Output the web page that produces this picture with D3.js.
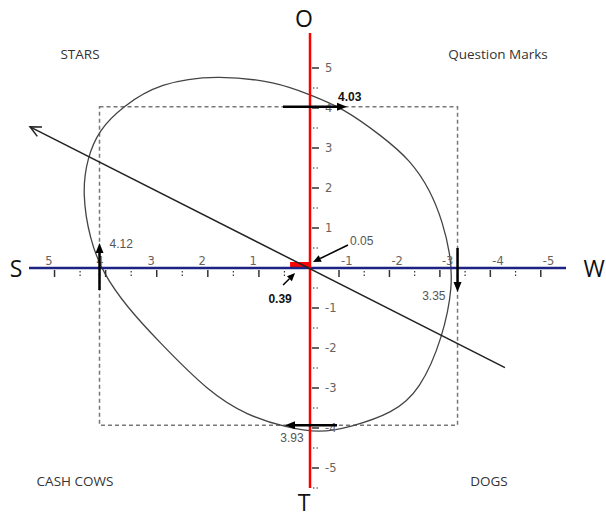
<!DOCTYPE html>
<html>
<head>
<meta charset="utf-8">
<script src="https://cdn.jsdelivr.net/npm/d3@7"></script>
<style>
  body { margin: 0; background: #fff; }
  svg { display: block; }
</style>
</head>
<body>
<div id="d3-container"></div>
<script>
const width = 606;
const height = 517;

// Data
const axisNames = ["O", "S", "W", "T"];
const quadrantNames = ["STARS", "Question Marks", "CASH COWS", "DOGS"];
const xTickValues = [5, 4, 3, 2, 1, -1, -2, -3, -4, -5];
const xMinorValues = [4.5, 3.5, 2.5, 1.5, 0.5, -1.5, -2.5, -3.5, -4.5];
const yTickValues = [5, 4, 3, 2, 1, -1, -2, -3, -4, -5];
const yMinorValues = [4.5, 3.5, 2.5, 1.5, 0.5, -0.5, -1.5, -2.5, -3.5, -4.5, -5.5];
// strength on each axis (S, O, W, T)
const axisValues = [
  { axis: "S", value: 4.12 },
  { axis: "O", value: 4.03 },
  { axis: "W", value: 3.35 },
  { axis: "T", value: 3.93 }
];
const centerX = 0.39;
const centerY = 0.05;
const trendX = [5.48, -4.29];
const trendY = [3.53, -2.49];
// outline of the closed curve, read clockwise from the top
const outlineX = [1.82, 0.65, 0, -1.08, -1.87, -2.41, -2.81, -3.06, -3.20, -3.26, -3.06, -2.61, -2.07, -1.22, -0.34, 0.49, 1.23, 1.96, 2.99, 3.58, 4.05, 4.31, 4.46, 4.36, 4.13, 3.68, 2.94];
const outlineY = [4.83, 4.65, 4.33, 4.0, 3.28, 2.7, 1.95, 1.13, 0.38, -0.43, -1.73, -3.05, -3.63, -3.98, -4.13, -3.98, -3.68, -3.13, -1.8, -0.98, -0.13, 0.70, 1.88, 2.75, 3.45, 4.03, 4.63];

const svg = d3.select('#d3-container')
  .append('svg')
  .attr('width', width)
  .attr('height', height);

// S side on the left, W side on the right (axis is drawn unevenly)
const x = d3.scaleLinear()
  .domain([5.5, 0, -1, -5.5])
  .range([29, 310, 339, 566]);

const y = d3.scaleLinear()
  .domain([5.875, -5.5])
  .range([33, 488]);

const tickFont = "DejaVu Sans, sans-serif";
const labelFont = "'Open Sans', sans-serif";

// dashed box
const sV = axisValues[0].value, oV = axisValues[1].value, wV = axisValues[2].value, tV = axisValues[3].value;
svg.append("rect")
  .attr("x", x(sV))
  .attr("y", y(oV))
  .attr("width", x(-wV) - x(sV))
  .attr("height", y(-tV) - y(oV))
  .style("fill", "none")
  .style("stroke", "#777")
  .style("stroke-width", 1.5)
  .style("stroke-dasharray", "4 3");

// closed curve
const outline = outlineX.map((d, i) => [d, outlineY[i]]);
svg.append("path")
  .datum(outline)
  .attr("d", d3.line().x(d => x(d[0])).y(d => y(d[1])).curve(d3.curveBasisClosed))
  .style("fill", "none")
  .style("stroke", "#444")
  .style("stroke-width", 1.3);

// red patch at the centre
svg.append("rect")
  .attr("x", x(centerX))
  .attr("y", y(0) - 6)
  .attr("width", x(0) - x(centerX))
  .attr("height", 7)
  .style("fill", "#ff0000");

// Horizontal axis
svg.append("line")
  .attr("x1", x(5.5)).attr("x2", x(-5.5))
  .attr("y1", y(0)).attr("y2", y(0))
  .style("stroke", "#1c2383")
  .style("stroke-width", 2.5);

svg.selectAll(".x-tick")
  .data(xTickValues)
  .enter()
  .append("line")
  .attr("class", "x-tick")
  .attr("x1", d => x(d)).attr("x2", d => x(d))
  .attr("y1", y(0) + 2).attr("y2", y(0) + 9)
  .style("stroke", "#333")
  .style("stroke-width", 1.5);

svg.selectAll(".x-minor")
  .data(xMinorValues)
  .enter()
  .append("line")
  .attr("class", "x-minor")
  .attr("x1", d => x(d)).attr("x2", d => x(d))
  .attr("y1", y(0) + 3).attr("y2", y(0) + 9)
  .style("stroke", "#333")
  .style("stroke-width", 1.2)
  .style("stroke-dasharray", "1.5 2");

svg.selectAll(".x-label")
  .data(xTickValues)
  .enter()
  .append("text")
  .attr("class", "x-label")
  .attr("x", d => d > 0 ? x(d) - 2 : x(d) + 2)
  .attr("y", y(0) - 3)
  .attr("text-anchor", d => d > 0 ? "end" : "start")
  .style("font-family", tickFont)
  .style("font-size", "11.5px")
  .style("fill", "#6a625c")
  .text(d => d);

// Vertical axis
svg.append("line")
  .attr("x1", x(0)).attr("x2", x(0))
  .attr("y1", y(5.875)).attr("y2", y(-5.5))
  .style("stroke", "#ff0000")
  .style("stroke-width", 2.5);

svg.selectAll(".y-tick")
  .data(yTickValues)
  .enter()
  .append("line")
  .attr("class", "y-tick")
  .attr("x1", x(0) + 2).attr("x2", x(0) + 9)
  .attr("y1", d => y(d)).attr("y2", d => y(d))
  .style("stroke", "#333")
  .style("stroke-width", 1.5);

svg.selectAll(".y-minor")
  .data(yMinorValues)
  .enter()
  .append("line")
  .attr("class", "y-minor")
  .attr("x1", x(0) + 3).attr("x2", x(0) + 8)
  .attr("y1", d => y(d)).attr("y2", d => y(d))
  .style("stroke", "#333")
  .style("stroke-width", 1.2)
  .style("stroke-dasharray", "1.5 2");

svg.selectAll(".y-label")
  .data(yTickValues)
  .enter()
  .append("text")
  .attr("class", "y-label")
  .attr("x", x(0) + 15)
  .attr("y", d => y(d))
  .attr("dy", "0.35em")
  .style("font-family", tickFont)
  .style("font-size", "11.5px")
  .style("fill", "#6a625c")
  .text(d => d);

// trend line with open arrow at the upper left
const trend = trendX.map((d, i) => [x(d), y(trendY[i])]);
svg.append("line")
  .attr("x1", trend[1][0]).attr("y1", trend[1][1])
  .attr("x2", trend[0][0]).attr("y2", trend[0][1])
  .style("stroke", "#222")
  .style("stroke-width", 1.5);

const ang = Math.atan2(trend[0][1] - trend[1][1], trend[0][0] - trend[1][0]);
svg.append("path")
  .attr("d", d3.line()([
    [trend[0][0] - 12 * Math.cos(ang - 0.45), trend[0][1] - 12 * Math.sin(ang - 0.45)],
    trend[0],
    [trend[0][0] - 12 * Math.cos(ang + 0.45), trend[0][1] - 12 * Math.sin(ang + 0.45)]
  ]))
  .style("fill", "none")
  .style("stroke", "#222")
  .style("stroke-width", 1.5);

// arrow helper: line plus filled head
function arrow(x1, y1, x2, y2, w, headLen, headW) {
  const a = Math.atan2(y2 - y1, x2 - x1);
  const bx = x2 - headLen * Math.cos(a), by = y2 - headLen * Math.sin(a);
  svg.append("line")
    .attr("x1", x1).attr("y1", y1)
    .attr("x2", bx).attr("y2", by)
    .style("stroke", "#000")
    .style("stroke-width", w);
  svg.append("path")
    .attr("d", d3.line()([
      [x2, y2],
      [bx + headW / 2 * Math.sin(a), by - headW / 2 * Math.cos(a)],
      [bx - headW / 2 * Math.sin(a), by + headW / 2 * Math.cos(a)]
    ]) + "Z")
    .style("fill", "#000");
}

// arrows on each axis value (clockwise)
arrow(x(sV), y(0) + 22, x(sV), y(0) - 25, 2.5, 10, 8);
arrow(x(0) - 27, y(oV), x(0) + 37, y(oV), 2.5, 10, 8);
arrow(x(-wV), y(0) - 20, x(-wV), y(0) + 24, 2.5, 10, 8);
arrow(x(0) + 27, y(-tV), x(0) - 25, y(-tV), 2.5, 10, 8);

// arrows to the centre
arrow(x(centerX) - 7, y(0) + 17, x(centerX) + 5, y(0) + 5, 1.5, 8, 7);
arrow(x(0) + 38, y(centerY) - 21, x(0) + 3, y(centerY) - 4, 1.5, 8, 7);

// value labels
const valueLabels = [
  { text: sV.toFixed(2), x: x(sV) + 10, y: y(0) - 20, anchor: "start", bold: false },
  { text: oV.toFixed(2), x: x(0) + 28, y: y(oV) - 6, anchor: "start", bold: true },
  { text: wV.toFixed(2), x: x(-wV) - 12, y: y(0) + 32, anchor: "end", bold: false },
  { text: tV.toFixed(2), x: x(0) - 18, y: y(-tV) + 17, anchor: "middle", bold: false },
  { text: centerX.toFixed(2), x: x(centerX) - 10, y: y(0) + 35, anchor: "middle", bold: true },
  { text: centerY.toFixed(2), x: x(0) + 40, y: y(centerY) - 21, anchor: "start", bold: false }
];

svg.selectAll(".value-label")
  .data(valueLabels)
  .enter()
  .append("text")
  .attr("class", "value-label")
  .attr("x", d => d.x)
  .attr("y", d => d.y)
  .attr("text-anchor", d => d.anchor)
  .style("font-family", "Liberation Sans, Arial, sans-serif")
  .style("font-size", "12px")
  .style("font-weight", d => d.bold ? "bold" : "normal")
  .style("fill", d => d.bold ? "#111" : "#555")
  .text(d => d.text);

// axis names
const namePos = [
  [x(0) - 6, 27],
  [16, y(0) + 9],
  [594, y(0) + 9],
  [x(0) - 6, 511]
];
svg.selectAll(".axis-name")
  .data(axisNames)
  .enter()
  .append("text")
  .attr("class", "axis-name")
  .attr("x", (d, i) => namePos[i][0])
  .attr("y", (d, i) => namePos[i][1])
  .attr("text-anchor", "middle")
  .style("font-family", labelFont)
  .style("font-size", "23px")
  .style("fill", "#111")
  .text(d => d);

// quadrant names
const quadPos = [[80, 59], [498, 59], [75, 486], [489, 486]];
svg.selectAll(".quadrant")
  .data(quadrantNames)
  .enter()
  .append("text")
  .attr("class", "quadrant")
  .attr("x", (d, i) => quadPos[i][0])
  .attr("y", (d, i) => quadPos[i][1])
  .attr("text-anchor", "middle")
  .style("font-family", labelFont)
  .style("font-size", "13.5px")
  .style("fill", "#333")
  .text(d => d);
</script>
</body>
</html>
